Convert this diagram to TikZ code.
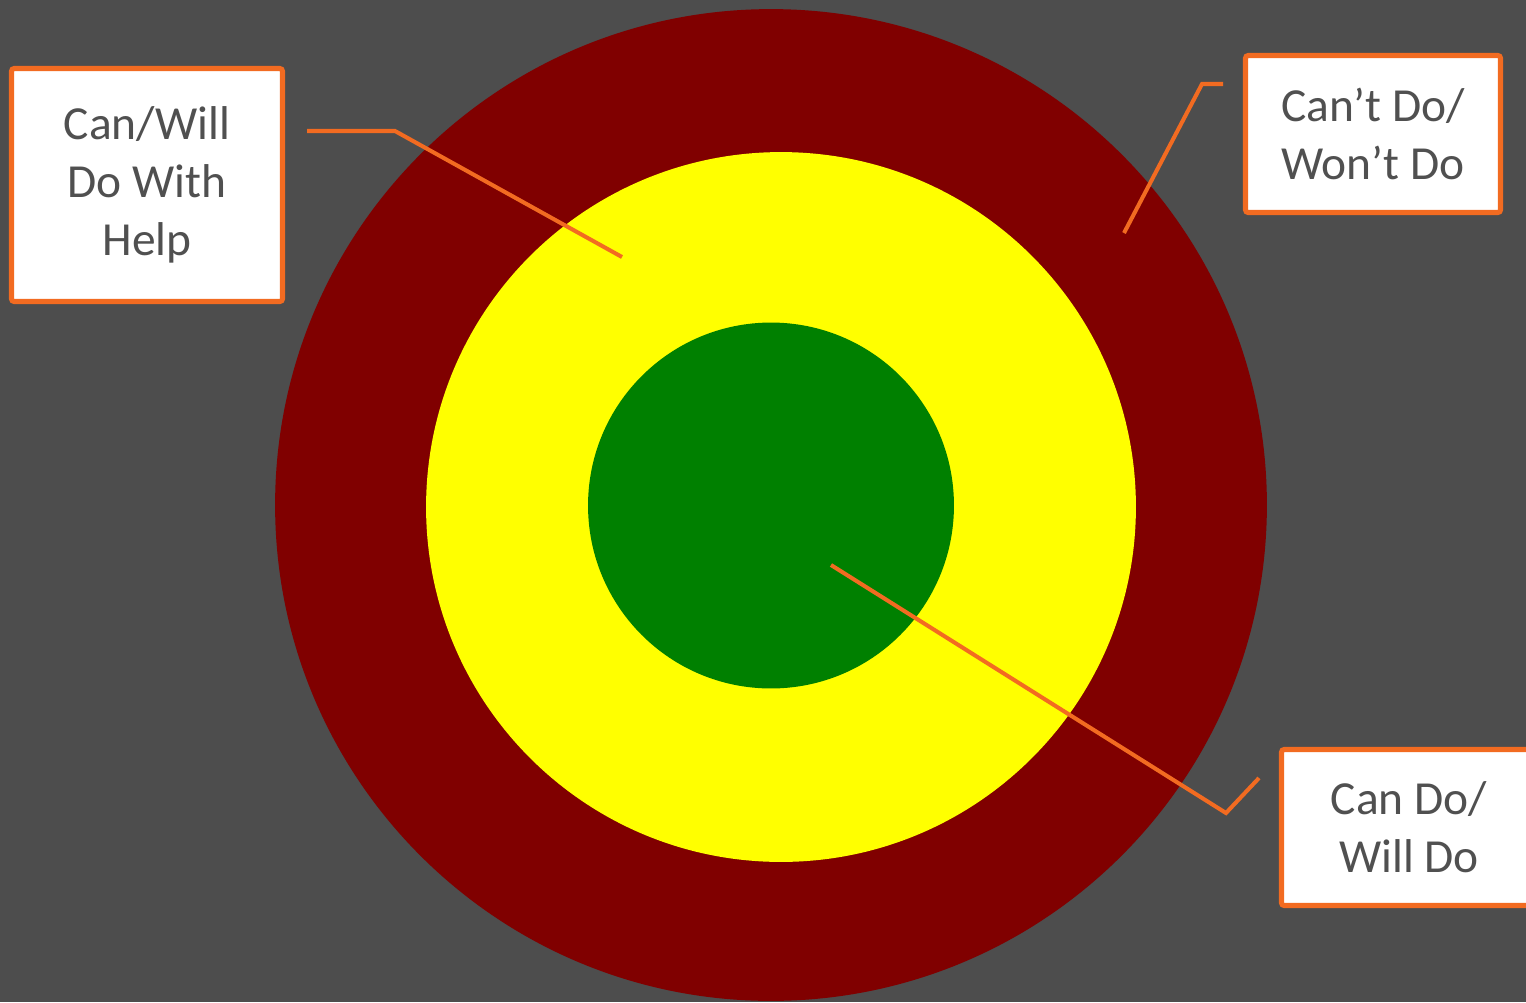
\documentclass[tikz,border=0pt]{standalone}
\usepackage{fontspec}
\setmainfont{Carlito}
\usepackage{tikz}

\definecolor{slidegray}{HTML}{4D4D4D}
\definecolor{ringred}{HTML}{800000}
\definecolor{ringyellow}{HTML}{FFFF00}
\definecolor{ringgreen}{HTML}{008000}
\definecolor{calloutorange}{HTML}{F26B21}
\definecolor{labelgray}{HTML}{505050}

\begin{document}
\begin{tikzpicture}[
  x=0.02cm, y=-0.02cm,
  every node/.style={font=\fontsize{27}{33}\selectfont},
  ring/.style={circle, inner sep=0pt, draw=none},
  calloutbox/.style={
    draw=calloutorange,
    line width=2.9pt,
    fill=white,
    text=labelgray,
    align=center,
    rounded corners=1.5pt,
    inner sep=0pt
  },
  leader/.style={draw=calloutorange, line width=2.3pt}
]

% background
\fill[slidegray] (0,0) rectangle (1526,1002);
\useasboundingbox (0,0) rectangle (1526,1002);

% target rings
\node[ring, fill=ringred, minimum size=19.84cm] (outer) at (771,505) {};
\node[ring, fill=ringyellow, minimum size=14.2cm] (middle) at (781,507) {};
\node[ring, fill=ringgreen, minimum size=7.32cm] (inner) at (771,505.5) {};

% labels
\node[calloutbox, minimum width=5.42cm, minimum height=4.66cm] (helpbox) at (147,185)
  {Can/Will\\Do With\\Help};
\node[calloutbox, minimum width=5.1cm, minimum height=3.14cm] (wontbox) at (1373,134)
  {Can’t Do/\\Won’t Do};
\node[calloutbox, minimum width=5.1cm, minimum height=3.12cm] (willbox) at (1409,827.5)
  {Can Do/\\Will Do};

% leader lines
\coordinate (helpfoot) at (307,131);
\coordinate (helpbend) at (395,131);
\coordinate (helptip) at (622,257);
\coordinate (wontfoot) at (1223,84);
\coordinate (wontbend) at (1202,84);
\coordinate (wonttip) at (1124,233);
\coordinate (willfoot) at (1259,778);
\coordinate (willbend) at (1226,813);
\coordinate (willtip) at (831,565);

\draw[leader] (helpfoot) -- (helpbend) -- (helptip);
\draw[leader] (wontfoot) -- (wontbend) -- (wonttip);
\draw[leader] (willfoot) -- (willbend) -- (willtip);

\end{tikzpicture}
\end{document}
